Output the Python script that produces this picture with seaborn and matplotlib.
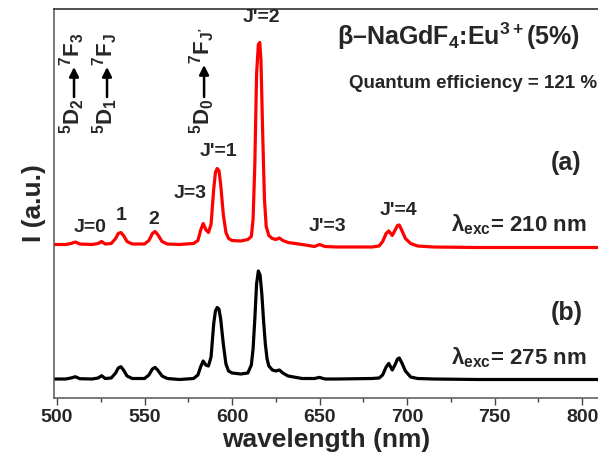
import numpy as np
import pandas as pd
import matplotlib
matplotlib.use("Agg")
import matplotlib.pyplot as plt
from matplotlib.ticker import MultipleLocator
import seaborn as sns

# emission spectra (a.u., baseline = 0)
wl_a = [498, 505, 508, 510.5, 513, 520, 523.5, 525.5, 527.5, 531, 533.5, 535, 536.5, 538,
        540, 543, 550, 552.5, 554.5, 556, 557.5, 560, 563, 570, 578, 580.5, 582, 583.5,
        585, 586.5, 588, 589.5, 590.5, 591.5, 592.5, 593.5, 595, 596.5, 598, 600, 605,
        609, 611, 612, 613, 614, 615, 615.8, 616.5, 617.5, 618.5, 619.5, 621, 623, 625,
        627, 629, 632, 640, 647, 650, 653, 660, 680, 684, 686, 688, 689.5, 691.5, 693,
        694.5, 695.5, 697, 699, 702, 706, 715, 740, 770, 810]
int_a = [0, 0, 1, 2.5, 0.5, 0, 1, 3, 0.5, 1, 6, 11, 12, 9,
         3, 0.5, 0.5, 4, 11, 13, 10, 3, 0.5, 0, 1, 4, 14, 21,
         15, 12, 20, 55, 72, 76, 74, 60, 30, 12, 6, 4, 3.5,
         5, 8, 25, 80, 170, 200, 202, 185, 110, 45, 18, 9, 6, 5,
         6.5, 4, 2, 0, -2, 0, -2, -2.5, -2.5, -1.5, 3, 11, 13.5, 9, 14,
         19, 19.5, 14, 6, 1, -1.5, -2.5, -3, -3, -3]

wl_b = [498, 505, 508, 510.5, 513, 520, 523.5, 525.5, 527.5, 531, 533.5, 535, 536.5, 538,
        540, 543, 550, 552.5, 554.5, 556, 557.5, 560, 563, 570, 578, 580.5, 582, 583.5,
        585, 586.5, 588, 589.5, 590.5, 591.5, 592.5, 593.5, 595, 596.5, 598, 600, 605,
        609, 611, 612, 613, 614, 615, 616, 617, 618, 619, 620, 621, 623, 625,
        627, 629, 632, 640, 647, 650, 653, 660, 680, 684, 686, 688, 689.5, 691.5, 693,
        694.5, 695.5, 697, 699, 702, 706, 715, 740, 770, 810]
int_b = [0, 0, 1, 2.3, 0.3, 0, 1, 3.3, 0.5, 1, 6, 11, 12.3, 9,
         3, 0.5, 0.5, 4, 10, 11.6, 9, 3, 0.5, -0.5, 0.5, 4, 12, 18,
         14, 13, 22, 55, 68, 71.5, 70, 60, 35, 15, 8, 6, 5,
         6, 14, 30, 60, 95, 108, 104, 85, 58, 35, 20, 13, 9, 8,
         9, 6, 3, 0.5, 0.5, 1.6, 0, 0, 0.5, 1, 4, 12, 15.6, 9, 14,
         20, 21, 16, 8, 2, 0.5, 0, -0.5, -0.5, -0.5]

offset_a = 134.5  # vertical stacking of spectrum (a)

peak_labels = ["J=0", "1", "2", "J=3", "J'=1", "J'=2", "J'=3", "J'=4"]
trans_lower = [r"$^5$D$_2$", r"$^5$D$_1$", r"$^5$D$_0$"]
trans_upper = [r"$^7$F$_3$", r"$^7$F$_J$", r"$^7$F$_{J'}$"]

sns.set_style("ticks")
plt.rcParams['font.family'] = ['Liberation Sans', 'DejaVu Sans']
plt.rcParams['font.weight'] = 'bold'
plt.rcParams['mathtext.fontset'] = 'custom'
plt.rcParams['mathtext.rm'] = 'Liberation Sans:bold'
plt.rcParams['mathtext.bf'] = 'Liberation Sans:bold'
plt.rcParams['mathtext.it'] = 'Liberation Sans:bold'
plt.rcParams['mathtext.default'] = 'bf'

df_a = pd.DataFrame({"wl": wl_a, "I": np.array(int_a) + offset_a})
df_b = pd.DataFrame({"wl": wl_b, "I": int_b})

fig = plt.figure(figsize=(5.98, 4.59), dpi=100)
ax = fig.add_axes([54 / 598, 1 - 398 / 459, 1 - 54 / 598, (398 - 9) / 459])

sns.lineplot(data=df_a, x="wl", y="I", ax=ax, color="#ff0000", lw=2.3,
             estimator=None, sort=False)
sns.lineplot(data=df_b, x="wl", y="I", ax=ax, color="black", lw=2.3,
             estimator=None, sort=False)

ax.set_xlim(498.3, 809)
ax.set_ylim(-19, 370)
ax.xaxis.set_major_locator(MultipleLocator(50))
ax.xaxis.set_minor_locator(MultipleLocator(25))
ax.tick_params(axis='x', which='major', direction='out', length=5, width=1,
               labelsize=14, color='#444444', pad=3)
ax.tick_params(axis='x', which='minor', direction='out', length=3, width=1,
               color='#444444')
ax.set_yticks([])
for lab in ax.get_xticklabels():
    lab.set_fontweight('bold')
ax.spines['right'].set_visible(False)
for s in ['left', 'bottom']:
    ax.spines[s].set_color('#555555')
    ax.spines[s].set_linewidth(1.1)
ax.spines['top'].set_color('#222222')
ax.spines['top'].set_linewidth(1.1)

ax.set_xlabel("wavelength (nm)", fontsize=19, fontweight='bold', labelpad=1)
ax.set_ylabel("I (a.u.)", fontsize=19, fontweight='bold', labelpad=6)


def px(x, y):
    # pixel position in the 598x459 picture -> data coordinates
    return 498.3 + (x - 54) / 1.75, 379 - y


label_px = [(90, 227), (121, 215), (154, 219), (190, 193), (218, 152),
            (261, 17), (327, 226), (398, 210)]
for lab, (x, y) in zip(peak_labels, label_px):
    ax.text(*px(x, y), lab, fontsize=14, fontweight='bold', ha='center', va='center')

# rotated transition labels with a filled arrow between the two terms
arrow_x = [74, 107, 204]
arrow_top = [67, 67, 65]
for lo, hi, x, top in zip(trans_lower, trans_upper, arrow_x, arrow_top):
    ax.text(*px(x - 2, 98), lo, fontsize=16, rotation=90, ha='center', va='top')
    ax.text(*px(x - 2, top - 1), hi, fontsize=16, rotation=90, ha='center', va='bottom')
    ax.annotate("", xy=px(x, top), xytext=px(x, 97),
                arrowprops=dict(arrowstyle='-|>', lw=1.8, color='black',
                                mutation_scale=14, shrinkA=0, shrinkB=0))

ax.text(*px(458, 36), r"$\mathrm{\beta}$–NaGdF$_4$:Eu$^{3+}$(5%)", fontsize=18,
        ha='center', va='center')
ax.text(*px(597, 83), "Quantum efficiency = 121 %", fontsize=13.5, ha='right', va='center')
ax.text(*px(566, 163), "(a)", fontsize=18, ha='center', va='center')
ax.text(*px(566, 313), "(b)", fontsize=18, ha='center', va='center')
ax.text(*px(451, 225), r"$\lambda_{exc}$= 210 nm", fontsize=16, ha='left', va='center')
ax.text(*px(451, 358), r"$\lambda_{exc}$= 275 nm", fontsize=16, ha='left', va='center')

fig.savefig("out.png", dpi=100)
